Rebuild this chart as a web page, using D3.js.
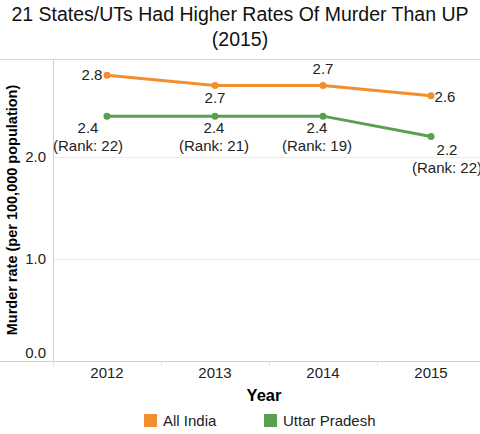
<!DOCTYPE html>
<html>
<head>
<meta charset="utf-8">
<script src="https://cdn.jsdelivr.net/npm/d3@7"></script>
<style>
  body { margin: 0; background: #fff; }
  svg { font-family: "Liberation Sans", Arial, sans-serif; }
</style>
</head>
<body>
<div id="chart"></div>
<script>
// data
const years = ['2012', '2013', '2014', '2015'];
const allIndia = [2.8, 2.7, 2.7, 2.6];
const uttarPradesh = [2.4, 2.4, 2.4, 2.2];
const upRanks = [22, 21, 19, 22];
const yTicks = [0, 1, 2];

const width = 480, height = 434;
const margin = {top: 59, right: 0, bottom: 73, left: 53};

const svg = d3.select('#chart')
    .append('svg')
    .attr('width', width)
    .attr('height', height);

// title
svg.append('text')
    .attr('x', 240).attr('y', 21)
    .attr('text-anchor', 'middle')
    .style('font-size', '19.5px')
    .style('fill', '#111')
    .text('21 States/UTs Had Higher Rates Of Murder Than UP');
svg.append('text')
    .attr('x', 240).attr('y', 46)
    .attr('text-anchor', 'middle')
    .style('font-size', '19.5px')
    .style('fill', '#111')
    .text('(2015)');

const x = d3.scaleBand()
    .domain(years)
    .range([margin.left, margin.left + 432]);

const y = d3.scaleLinear()
    .domain([0, 2.96])
    .range([height - margin.bottom, margin.top]);

// top border
svg.append('line')
    .attr('x1', 0).attr('x2', width)
    .attr('y1', margin.top + 0.5).attr('y2', margin.top + 0.5)
    .attr('stroke', '#d4d4d4');

// gridlines
svg.append('g')
    .selectAll('line')
    .data(yTicks.filter(d => d > 0))
    .enter()
    .append('line')
    .attr('x1', margin.left).attr('x2', width)
    .attr('y1', d => Math.round(y(d)) + 0.5)
    .attr('y2', d => Math.round(y(d)) + 0.5)
    .attr('stroke', '#ececec');

// y axis
const yAxis = svg.append('g')
    .attr('transform', 'translate(' + margin.left + ',0)')
    .call(d3.axisLeft(y).tickValues(yTicks).tickFormat(d3.format('.1f')).tickSize(0).tickPadding(7));
yAxis.select('.domain').remove();
yAxis.selectAll('text')
    .style('font-size', '15px')
    .style('fill', '#222')
    .attr('dy', d => d === 0 ? '-0.25em' : '0.32em');
svg.append('line')
    .attr('x1', margin.left + 0.5).attr('x2', margin.left + 0.5)
    .attr('y1', margin.top).attr('y2', y(0))
    .attr('stroke', '#cfcfcf');

// x axis
const xAxis = svg.append('g')
    .attr('transform', 'translate(0,' + (y(0) + 0.5) + ')')
    .call(d3.axisBottom(x).tickSize(0).tickPadding(6));
xAxis.select('.domain').remove();
xAxis.selectAll('text')
    .style('font-size', '15px')
    .style('fill', '#222');
svg.append('line')
    .attr('x1', 0).attr('x2', width)
    .attr('y1', y(0) + 0.5).attr('y2', y(0) + 0.5)
    .attr('stroke', '#cfcfcf');
// band separators
svg.append('g')
    .selectAll('line')
    .data(years)
    .enter()
    .append('line')
    .attr('x1', d => x(d) + 0.5).attr('x2', d => x(d) + 0.5)
    .attr('y1', y(0)).attr('y2', y(0) + 5)
    .attr('stroke', '#e2e2e2');

// axis titles
svg.append('text')
    .attr('x', 264).attr('y', 401)
    .attr('text-anchor', 'middle')
    .style('font-size', '16.5px')
    .style('font-weight', 'bold')
    .text('Year');
svg.append('text')
    .attr('transform', 'translate(17,210) rotate(-90)')
    .attr('text-anchor', 'middle')
    .style('font-size', '14.5px')
    .style('font-weight', 'bold')
    .text('Murder rate (per 100,000 population)');

// lines
const series = [
    {name: 'All India', values: allIndia, color: '#f28e2b'},
    {name: 'Uttar Pradesh', values: uttarPradesh, color: '#59a14f'}
];
const line = d3.line()
    .x((d, i) => x(years[i]) + x.bandwidth() / 2)
    .y(d => y(d));

series.forEach(s => {
    svg.append('path')
        .attr('d', line(s.values))
        .attr('fill', 'none')
        .attr('stroke', s.color)
        .attr('stroke-width', 3);
    svg.append('g')
        .selectAll('circle')
        .data(s.values)
        .enter()
        .append('circle')
        .attr('cx', (d, i) => x(years[i]) + x.bandwidth() / 2)
        .attr('cy', d => y(d))
        .attr('r', 3.5)
        .attr('fill', s.color);
});

// labels: offsets relative to the point
const aiOffsets = [[-15, 5, 'middle'], [0, 17, 'middle'], [0, -12, 'middle'], [14, 6, 'middle']];
const upOffsets = [[-19, 17], [-1, 17], [-6, 17], [16, 18]];
const lbl = svg.append('g').style('font-size', '15px').style('fill', '#222');

allIndia.forEach((v, i) => {
    const o = aiOffsets[i];
    lbl.append('text')
        .attr('x', x(years[i]) + x.bandwidth() / 2 + o[0])
        .attr('y', y(v) + o[1])
        .attr('text-anchor', o[2])
        .text(v.toFixed(1));
});
uttarPradesh.forEach((v, i) => {
    const o = upOffsets[i];
    const cx = x(years[i]) + x.bandwidth() / 2 + o[0];
    const t = lbl.append('text')
        .attr('x', cx)
        .attr('y', y(v) + o[1])
        .attr('text-anchor', 'middle');
    t.append('tspan').attr('x', cx).text(v.toFixed(1));
    t.append('tspan').attr('x', cx).attr('dy', 18).text('(Rank: ' + upRanks[i] + ')');
});

// legend
const legend = svg.append('g');
const legendX = [144, 264];
series.forEach((s, i) => {
    legend.append('rect')
        .attr('x', legendX[i]).attr('y', 414)
        .attr('width', 13).attr('height', 13)
        .attr('fill', s.color);
    legend.append('text')
        .attr('x', legendX[i] + 19).attr('y', 426)
        .style('font-size', '15px')
        .style('fill', '#222')
        .text(s.name);
});
</script>
</body>
</html>
